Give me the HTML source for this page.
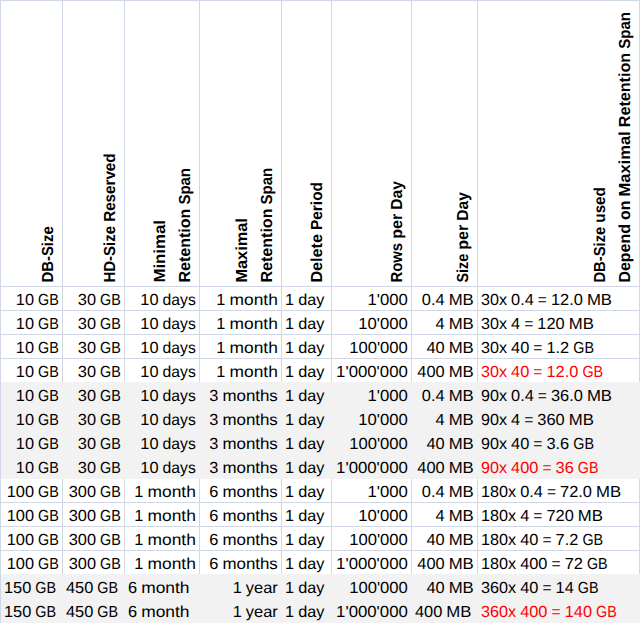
<!DOCTYPE html><html><head><meta charset="utf-8"><style>html,body{margin:0;padding:0;background:#fff;overflow:hidden}svg{display:block}text{text-rendering:geometricPrecision;font-family:"Liberation Sans",sans-serif;white-space:pre}</style></head><body>
<svg width="640" height="623" viewBox="0 0 640 623" shape-rendering="crispEdges">
<rect x="0" y="0" width="640" height="623" fill="#fff"/>
<rect x="0" y="0" width="1" height="623" fill="#D0D7E5"/>
<rect x="62" y="0" width="1" height="623" fill="#D0D7E5"/>
<rect x="124" y="0" width="1" height="623" fill="#D0D7E5"/>
<rect x="199" y="0" width="1" height="623" fill="#D0D7E5"/>
<rect x="281" y="0" width="1" height="623" fill="#D0D7E5"/>
<rect x="331" y="0" width="1" height="623" fill="#D0D7E5"/>
<rect x="411" y="0" width="1" height="623" fill="#D0D7E5"/>
<rect x="477" y="0" width="1" height="623" fill="#D0D7E5"/>
<rect x="639" y="0" width="1" height="623" fill="#D0D7E5"/>
<rect x="0" y="0" width="640" height="1" fill="#D0D7E5"/>
<rect x="0" y="286" width="640" height="1" fill="#D0D7E5"/>
<rect x="0" y="310" width="640" height="1" fill="#D0D7E5"/>
<rect x="0" y="334" width="640" height="1" fill="#D0D7E5"/>
<rect x="0" y="358" width="640" height="1" fill="#D0D7E5"/>
<rect x="0" y="382" width="640" height="1" fill="#D0D7E5"/>
<rect x="0" y="406" width="640" height="1" fill="#D0D7E5"/>
<rect x="0" y="430" width="640" height="1" fill="#D0D7E5"/>
<rect x="0" y="454" width="640" height="1" fill="#D0D7E5"/>
<rect x="0" y="478" width="640" height="1" fill="#D0D7E5"/>
<rect x="0" y="502" width="640" height="1" fill="#D0D7E5"/>
<rect x="0" y="526" width="640" height="1" fill="#D0D7E5"/>
<rect x="0" y="550" width="640" height="1" fill="#D0D7E5"/>
<rect x="0" y="574" width="640" height="1" fill="#D0D7E5"/>
<rect x="0" y="598" width="640" height="1" fill="#D0D7E5"/>
<rect x="0" y="622" width="640" height="1" fill="#D0D7E5"/>
<rect x="1" y="382" width="639" height="97" fill="#F2F2F2"/>
<rect x="1" y="574" width="639" height="49" fill="#F2F2F2"/>
<g font-size="16" shape-rendering="auto">
<text x="15.79" y="305" textLength="18.21" lengthAdjust="spacingAndGlyphs" fill="#000">10</text>
<text x="38.06" y="305" textLength="20.74" lengthAdjust="spacingAndGlyphs" fill="#000">GB</text>
<text x="77.79" y="305" textLength="18.21" lengthAdjust="spacingAndGlyphs" fill="#000">30</text>
<text x="100.06" y="305" textLength="20.74" lengthAdjust="spacingAndGlyphs" fill="#000">GB</text>
<text x="140.33" y="305" textLength="18.21" lengthAdjust="spacingAndGlyphs" fill="#000">10</text>
<text x="162.60" y="305" textLength="33.20" lengthAdjust="spacingAndGlyphs" fill="#000">days</text>
<text x="216.32" y="305" textLength="9.10" lengthAdjust="spacingAndGlyphs" fill="#000">1</text>
<text x="229.49" y="305" textLength="48.31" lengthAdjust="spacingAndGlyphs" fill="#000">month</text>
<text x="285.00" y="305" textLength="9.10" lengthAdjust="spacingAndGlyphs" fill="#000">1</text>
<text x="298.17" y="305" textLength="26.17" lengthAdjust="spacingAndGlyphs" fill="#000">day</text>
<text x="367.42" y="305" textLength="40.38" lengthAdjust="spacingAndGlyphs" fill="#000">1&#39;000</text>
<text x="421.87" y="305" textLength="22.74" lengthAdjust="spacingAndGlyphs" fill="#000">0.4</text>
<text x="448.67" y="305" textLength="25.13" lengthAdjust="spacingAndGlyphs" fill="#000">MB</text>
<text x="481.00" y="305" textLength="25.98" lengthAdjust="spacingAndGlyphs" fill="#000">30x</text>
<text x="511.04" y="305" textLength="22.74" lengthAdjust="spacingAndGlyphs" fill="#000">0.4</text>
<text x="537.85" y="305" textLength="9.10" lengthAdjust="spacingAndGlyphs" fill="#000">=</text>
<text x="551.01" y="305" textLength="31.85" lengthAdjust="spacingAndGlyphs" fill="#000">12.0</text>
<text x="586.92" y="305" textLength="25.13" lengthAdjust="spacingAndGlyphs" fill="#000">MB</text>
<text x="15.79" y="329" textLength="18.21" lengthAdjust="spacingAndGlyphs" fill="#000">10</text>
<text x="38.06" y="329" textLength="20.74" lengthAdjust="spacingAndGlyphs" fill="#000">GB</text>
<text x="77.79" y="329" textLength="18.21" lengthAdjust="spacingAndGlyphs" fill="#000">30</text>
<text x="100.06" y="329" textLength="20.74" lengthAdjust="spacingAndGlyphs" fill="#000">GB</text>
<text x="140.33" y="329" textLength="18.21" lengthAdjust="spacingAndGlyphs" fill="#000">10</text>
<text x="162.60" y="329" textLength="33.20" lengthAdjust="spacingAndGlyphs" fill="#000">days</text>
<text x="216.32" y="329" textLength="9.10" lengthAdjust="spacingAndGlyphs" fill="#000">1</text>
<text x="229.49" y="329" textLength="48.31" lengthAdjust="spacingAndGlyphs" fill="#000">month</text>
<text x="285.00" y="329" textLength="9.10" lengthAdjust="spacingAndGlyphs" fill="#000">1</text>
<text x="298.17" y="329" textLength="26.17" lengthAdjust="spacingAndGlyphs" fill="#000">day</text>
<text x="358.31" y="329" textLength="49.49" lengthAdjust="spacingAndGlyphs" fill="#000">10&#39;000</text>
<text x="435.50" y="329" textLength="9.10" lengthAdjust="spacingAndGlyphs" fill="#000">4</text>
<text x="448.67" y="329" textLength="25.13" lengthAdjust="spacingAndGlyphs" fill="#000">MB</text>
<text x="481.00" y="329" textLength="25.98" lengthAdjust="spacingAndGlyphs" fill="#000">30x</text>
<text x="511.04" y="329" textLength="9.10" lengthAdjust="spacingAndGlyphs" fill="#000">4</text>
<text x="524.21" y="329" textLength="9.10" lengthAdjust="spacingAndGlyphs" fill="#000">=</text>
<text x="537.37" y="329" textLength="27.31" lengthAdjust="spacingAndGlyphs" fill="#000">120</text>
<text x="568.75" y="329" textLength="25.13" lengthAdjust="spacingAndGlyphs" fill="#000">MB</text>
<text x="15.79" y="353" textLength="18.21" lengthAdjust="spacingAndGlyphs" fill="#000">10</text>
<text x="38.06" y="353" textLength="20.74" lengthAdjust="spacingAndGlyphs" fill="#000">GB</text>
<text x="77.79" y="353" textLength="18.21" lengthAdjust="spacingAndGlyphs" fill="#000">30</text>
<text x="100.06" y="353" textLength="20.74" lengthAdjust="spacingAndGlyphs" fill="#000">GB</text>
<text x="140.33" y="353" textLength="18.21" lengthAdjust="spacingAndGlyphs" fill="#000">10</text>
<text x="162.60" y="353" textLength="33.20" lengthAdjust="spacingAndGlyphs" fill="#000">days</text>
<text x="216.32" y="353" textLength="9.10" lengthAdjust="spacingAndGlyphs" fill="#000">1</text>
<text x="229.49" y="353" textLength="48.31" lengthAdjust="spacingAndGlyphs" fill="#000">month</text>
<text x="285.00" y="353" textLength="9.10" lengthAdjust="spacingAndGlyphs" fill="#000">1</text>
<text x="298.17" y="353" textLength="26.17" lengthAdjust="spacingAndGlyphs" fill="#000">day</text>
<text x="349.21" y="353" textLength="58.59" lengthAdjust="spacingAndGlyphs" fill="#000">100&#39;000</text>
<text x="426.40" y="353" textLength="18.21" lengthAdjust="spacingAndGlyphs" fill="#000">40</text>
<text x="448.67" y="353" textLength="25.13" lengthAdjust="spacingAndGlyphs" fill="#000">MB</text>
<text x="481.00" y="353" textLength="25.98" lengthAdjust="spacingAndGlyphs" fill="#000">30x</text>
<text x="511.04" y="353" textLength="18.21" lengthAdjust="spacingAndGlyphs" fill="#000">40</text>
<text x="533.31" y="353" textLength="9.10" lengthAdjust="spacingAndGlyphs" fill="#000">=</text>
<text x="546.48" y="353" textLength="22.74" lengthAdjust="spacingAndGlyphs" fill="#000">1.2</text>
<text x="573.28" y="353" textLength="20.74" lengthAdjust="spacingAndGlyphs" fill="#000">GB</text>
<text x="15.79" y="377" textLength="18.21" lengthAdjust="spacingAndGlyphs" fill="#000">10</text>
<text x="38.06" y="377" textLength="20.74" lengthAdjust="spacingAndGlyphs" fill="#000">GB</text>
<text x="77.79" y="377" textLength="18.21" lengthAdjust="spacingAndGlyphs" fill="#000">30</text>
<text x="100.06" y="377" textLength="20.74" lengthAdjust="spacingAndGlyphs" fill="#000">GB</text>
<text x="140.33" y="377" textLength="18.21" lengthAdjust="spacingAndGlyphs" fill="#000">10</text>
<text x="162.60" y="377" textLength="33.20" lengthAdjust="spacingAndGlyphs" fill="#000">days</text>
<text x="216.32" y="377" textLength="9.10" lengthAdjust="spacingAndGlyphs" fill="#000">1</text>
<text x="229.49" y="377" textLength="48.31" lengthAdjust="spacingAndGlyphs" fill="#000">month</text>
<text x="285.00" y="377" textLength="9.10" lengthAdjust="spacingAndGlyphs" fill="#000">1</text>
<text x="298.17" y="377" textLength="26.17" lengthAdjust="spacingAndGlyphs" fill="#000">day</text>
<text x="336.14" y="377" textLength="71.66" lengthAdjust="spacingAndGlyphs" fill="#000">1&#39;000&#39;000</text>
<text x="417.30" y="377" textLength="27.31" lengthAdjust="spacingAndGlyphs" fill="#000">400</text>
<text x="448.67" y="377" textLength="25.13" lengthAdjust="spacingAndGlyphs" fill="#000">MB</text>
<text x="481.00" y="377" textLength="25.98" lengthAdjust="spacingAndGlyphs" fill="#FF0000">30x</text>
<text x="511.04" y="377" textLength="18.21" lengthAdjust="spacingAndGlyphs" fill="#FF0000">40</text>
<text x="533.31" y="377" textLength="9.10" lengthAdjust="spacingAndGlyphs" fill="#FF0000">=</text>
<text x="546.48" y="377" textLength="31.85" lengthAdjust="spacingAndGlyphs" fill="#FF0000">12.0</text>
<text x="582.39" y="377" textLength="20.74" lengthAdjust="spacingAndGlyphs" fill="#FF0000">GB</text>
<text x="15.79" y="401" textLength="18.21" lengthAdjust="spacingAndGlyphs" fill="#000">10</text>
<text x="38.06" y="401" textLength="20.74" lengthAdjust="spacingAndGlyphs" fill="#000">GB</text>
<text x="77.79" y="401" textLength="18.21" lengthAdjust="spacingAndGlyphs" fill="#000">30</text>
<text x="100.06" y="401" textLength="20.74" lengthAdjust="spacingAndGlyphs" fill="#000">GB</text>
<text x="140.33" y="401" textLength="18.21" lengthAdjust="spacingAndGlyphs" fill="#000">10</text>
<text x="162.60" y="401" textLength="33.20" lengthAdjust="spacingAndGlyphs" fill="#000">days</text>
<text x="209.30" y="401" textLength="9.10" lengthAdjust="spacingAndGlyphs" fill="#000">3</text>
<text x="222.46" y="401" textLength="55.34" lengthAdjust="spacingAndGlyphs" fill="#000">months</text>
<text x="285.00" y="401" textLength="9.10" lengthAdjust="spacingAndGlyphs" fill="#000">1</text>
<text x="298.17" y="401" textLength="26.17" lengthAdjust="spacingAndGlyphs" fill="#000">day</text>
<text x="367.42" y="401" textLength="40.38" lengthAdjust="spacingAndGlyphs" fill="#000">1&#39;000</text>
<text x="421.87" y="401" textLength="22.74" lengthAdjust="spacingAndGlyphs" fill="#000">0.4</text>
<text x="448.67" y="401" textLength="25.13" lengthAdjust="spacingAndGlyphs" fill="#000">MB</text>
<text x="481.00" y="401" textLength="25.98" lengthAdjust="spacingAndGlyphs" fill="#000">90x</text>
<text x="511.04" y="401" textLength="22.74" lengthAdjust="spacingAndGlyphs" fill="#000">0.4</text>
<text x="537.85" y="401" textLength="9.10" lengthAdjust="spacingAndGlyphs" fill="#000">=</text>
<text x="551.01" y="401" textLength="31.85" lengthAdjust="spacingAndGlyphs" fill="#000">36.0</text>
<text x="586.92" y="401" textLength="25.13" lengthAdjust="spacingAndGlyphs" fill="#000">MB</text>
<text x="15.79" y="425" textLength="18.21" lengthAdjust="spacingAndGlyphs" fill="#000">10</text>
<text x="38.06" y="425" textLength="20.74" lengthAdjust="spacingAndGlyphs" fill="#000">GB</text>
<text x="77.79" y="425" textLength="18.21" lengthAdjust="spacingAndGlyphs" fill="#000">30</text>
<text x="100.06" y="425" textLength="20.74" lengthAdjust="spacingAndGlyphs" fill="#000">GB</text>
<text x="140.33" y="425" textLength="18.21" lengthAdjust="spacingAndGlyphs" fill="#000">10</text>
<text x="162.60" y="425" textLength="33.20" lengthAdjust="spacingAndGlyphs" fill="#000">days</text>
<text x="209.30" y="425" textLength="9.10" lengthAdjust="spacingAndGlyphs" fill="#000">3</text>
<text x="222.46" y="425" textLength="55.34" lengthAdjust="spacingAndGlyphs" fill="#000">months</text>
<text x="285.00" y="425" textLength="9.10" lengthAdjust="spacingAndGlyphs" fill="#000">1</text>
<text x="298.17" y="425" textLength="26.17" lengthAdjust="spacingAndGlyphs" fill="#000">day</text>
<text x="358.31" y="425" textLength="49.49" lengthAdjust="spacingAndGlyphs" fill="#000">10&#39;000</text>
<text x="435.50" y="425" textLength="9.10" lengthAdjust="spacingAndGlyphs" fill="#000">4</text>
<text x="448.67" y="425" textLength="25.13" lengthAdjust="spacingAndGlyphs" fill="#000">MB</text>
<text x="481.00" y="425" textLength="25.98" lengthAdjust="spacingAndGlyphs" fill="#000">90x</text>
<text x="511.04" y="425" textLength="9.10" lengthAdjust="spacingAndGlyphs" fill="#000">4</text>
<text x="524.21" y="425" textLength="9.10" lengthAdjust="spacingAndGlyphs" fill="#000">=</text>
<text x="537.37" y="425" textLength="27.31" lengthAdjust="spacingAndGlyphs" fill="#000">360</text>
<text x="568.75" y="425" textLength="25.13" lengthAdjust="spacingAndGlyphs" fill="#000">MB</text>
<text x="15.79" y="449" textLength="18.21" lengthAdjust="spacingAndGlyphs" fill="#000">10</text>
<text x="38.06" y="449" textLength="20.74" lengthAdjust="spacingAndGlyphs" fill="#000">GB</text>
<text x="77.79" y="449" textLength="18.21" lengthAdjust="spacingAndGlyphs" fill="#000">30</text>
<text x="100.06" y="449" textLength="20.74" lengthAdjust="spacingAndGlyphs" fill="#000">GB</text>
<text x="140.33" y="449" textLength="18.21" lengthAdjust="spacingAndGlyphs" fill="#000">10</text>
<text x="162.60" y="449" textLength="33.20" lengthAdjust="spacingAndGlyphs" fill="#000">days</text>
<text x="209.30" y="449" textLength="9.10" lengthAdjust="spacingAndGlyphs" fill="#000">3</text>
<text x="222.46" y="449" textLength="55.34" lengthAdjust="spacingAndGlyphs" fill="#000">months</text>
<text x="285.00" y="449" textLength="9.10" lengthAdjust="spacingAndGlyphs" fill="#000">1</text>
<text x="298.17" y="449" textLength="26.17" lengthAdjust="spacingAndGlyphs" fill="#000">day</text>
<text x="349.21" y="449" textLength="58.59" lengthAdjust="spacingAndGlyphs" fill="#000">100&#39;000</text>
<text x="426.40" y="449" textLength="18.21" lengthAdjust="spacingAndGlyphs" fill="#000">40</text>
<text x="448.67" y="449" textLength="25.13" lengthAdjust="spacingAndGlyphs" fill="#000">MB</text>
<text x="481.00" y="449" textLength="25.98" lengthAdjust="spacingAndGlyphs" fill="#000">90x</text>
<text x="511.04" y="449" textLength="18.21" lengthAdjust="spacingAndGlyphs" fill="#000">40</text>
<text x="533.31" y="449" textLength="9.10" lengthAdjust="spacingAndGlyphs" fill="#000">=</text>
<text x="546.48" y="449" textLength="22.74" lengthAdjust="spacingAndGlyphs" fill="#000">3.6</text>
<text x="573.28" y="449" textLength="20.74" lengthAdjust="spacingAndGlyphs" fill="#000">GB</text>
<text x="15.79" y="473" textLength="18.21" lengthAdjust="spacingAndGlyphs" fill="#000">10</text>
<text x="38.06" y="473" textLength="20.74" lengthAdjust="spacingAndGlyphs" fill="#000">GB</text>
<text x="77.79" y="473" textLength="18.21" lengthAdjust="spacingAndGlyphs" fill="#000">30</text>
<text x="100.06" y="473" textLength="20.74" lengthAdjust="spacingAndGlyphs" fill="#000">GB</text>
<text x="140.33" y="473" textLength="18.21" lengthAdjust="spacingAndGlyphs" fill="#000">10</text>
<text x="162.60" y="473" textLength="33.20" lengthAdjust="spacingAndGlyphs" fill="#000">days</text>
<text x="209.30" y="473" textLength="9.10" lengthAdjust="spacingAndGlyphs" fill="#000">3</text>
<text x="222.46" y="473" textLength="55.34" lengthAdjust="spacingAndGlyphs" fill="#000">months</text>
<text x="285.00" y="473" textLength="9.10" lengthAdjust="spacingAndGlyphs" fill="#000">1</text>
<text x="298.17" y="473" textLength="26.17" lengthAdjust="spacingAndGlyphs" fill="#000">day</text>
<text x="336.14" y="473" textLength="71.66" lengthAdjust="spacingAndGlyphs" fill="#000">1&#39;000&#39;000</text>
<text x="417.30" y="473" textLength="27.31" lengthAdjust="spacingAndGlyphs" fill="#000">400</text>
<text x="448.67" y="473" textLength="25.13" lengthAdjust="spacingAndGlyphs" fill="#000">MB</text>
<text x="481.00" y="473" textLength="25.98" lengthAdjust="spacingAndGlyphs" fill="#FF0000">90x</text>
<text x="511.04" y="473" textLength="27.31" lengthAdjust="spacingAndGlyphs" fill="#FF0000">400</text>
<text x="542.42" y="473" textLength="9.10" lengthAdjust="spacingAndGlyphs" fill="#FF0000">=</text>
<text x="555.58" y="473" textLength="18.21" lengthAdjust="spacingAndGlyphs" fill="#FF0000">36</text>
<text x="577.85" y="473" textLength="20.74" lengthAdjust="spacingAndGlyphs" fill="#FF0000">GB</text>
<text x="6.69" y="497" textLength="27.31" lengthAdjust="spacingAndGlyphs" fill="#000">100</text>
<text x="38.06" y="497" textLength="20.74" lengthAdjust="spacingAndGlyphs" fill="#000">GB</text>
<text x="68.69" y="497" textLength="27.31" lengthAdjust="spacingAndGlyphs" fill="#000">300</text>
<text x="100.06" y="497" textLength="20.74" lengthAdjust="spacingAndGlyphs" fill="#000">GB</text>
<text x="134.32" y="497" textLength="9.10" lengthAdjust="spacingAndGlyphs" fill="#000">1</text>
<text x="147.49" y="497" textLength="48.31" lengthAdjust="spacingAndGlyphs" fill="#000">month</text>
<text x="209.30" y="497" textLength="9.10" lengthAdjust="spacingAndGlyphs" fill="#000">6</text>
<text x="222.46" y="497" textLength="55.34" lengthAdjust="spacingAndGlyphs" fill="#000">months</text>
<text x="285.00" y="497" textLength="9.10" lengthAdjust="spacingAndGlyphs" fill="#000">1</text>
<text x="298.17" y="497" textLength="26.17" lengthAdjust="spacingAndGlyphs" fill="#000">day</text>
<text x="367.42" y="497" textLength="40.38" lengthAdjust="spacingAndGlyphs" fill="#000">1&#39;000</text>
<text x="421.87" y="497" textLength="22.74" lengthAdjust="spacingAndGlyphs" fill="#000">0.4</text>
<text x="448.67" y="497" textLength="25.13" lengthAdjust="spacingAndGlyphs" fill="#000">MB</text>
<text x="481.00" y="497" textLength="35.08" lengthAdjust="spacingAndGlyphs" fill="#000">180x</text>
<text x="520.15" y="497" textLength="22.74" lengthAdjust="spacingAndGlyphs" fill="#000">0.4</text>
<text x="546.95" y="497" textLength="9.10" lengthAdjust="spacingAndGlyphs" fill="#000">=</text>
<text x="560.12" y="497" textLength="31.85" lengthAdjust="spacingAndGlyphs" fill="#000">72.0</text>
<text x="596.03" y="497" textLength="25.13" lengthAdjust="spacingAndGlyphs" fill="#000">MB</text>
<text x="6.69" y="521" textLength="27.31" lengthAdjust="spacingAndGlyphs" fill="#000">100</text>
<text x="38.06" y="521" textLength="20.74" lengthAdjust="spacingAndGlyphs" fill="#000">GB</text>
<text x="68.69" y="521" textLength="27.31" lengthAdjust="spacingAndGlyphs" fill="#000">300</text>
<text x="100.06" y="521" textLength="20.74" lengthAdjust="spacingAndGlyphs" fill="#000">GB</text>
<text x="134.32" y="521" textLength="9.10" lengthAdjust="spacingAndGlyphs" fill="#000">1</text>
<text x="147.49" y="521" textLength="48.31" lengthAdjust="spacingAndGlyphs" fill="#000">month</text>
<text x="209.30" y="521" textLength="9.10" lengthAdjust="spacingAndGlyphs" fill="#000">6</text>
<text x="222.46" y="521" textLength="55.34" lengthAdjust="spacingAndGlyphs" fill="#000">months</text>
<text x="285.00" y="521" textLength="9.10" lengthAdjust="spacingAndGlyphs" fill="#000">1</text>
<text x="298.17" y="521" textLength="26.17" lengthAdjust="spacingAndGlyphs" fill="#000">day</text>
<text x="358.31" y="521" textLength="49.49" lengthAdjust="spacingAndGlyphs" fill="#000">10&#39;000</text>
<text x="435.50" y="521" textLength="9.10" lengthAdjust="spacingAndGlyphs" fill="#000">4</text>
<text x="448.67" y="521" textLength="25.13" lengthAdjust="spacingAndGlyphs" fill="#000">MB</text>
<text x="481.00" y="521" textLength="35.08" lengthAdjust="spacingAndGlyphs" fill="#000">180x</text>
<text x="520.15" y="521" textLength="9.10" lengthAdjust="spacingAndGlyphs" fill="#000">4</text>
<text x="533.31" y="521" textLength="9.10" lengthAdjust="spacingAndGlyphs" fill="#000">=</text>
<text x="546.48" y="521" textLength="27.31" lengthAdjust="spacingAndGlyphs" fill="#000">720</text>
<text x="577.85" y="521" textLength="25.13" lengthAdjust="spacingAndGlyphs" fill="#000">MB</text>
<text x="6.69" y="545" textLength="27.31" lengthAdjust="spacingAndGlyphs" fill="#000">100</text>
<text x="38.06" y="545" textLength="20.74" lengthAdjust="spacingAndGlyphs" fill="#000">GB</text>
<text x="68.69" y="545" textLength="27.31" lengthAdjust="spacingAndGlyphs" fill="#000">300</text>
<text x="100.06" y="545" textLength="20.74" lengthAdjust="spacingAndGlyphs" fill="#000">GB</text>
<text x="134.32" y="545" textLength="9.10" lengthAdjust="spacingAndGlyphs" fill="#000">1</text>
<text x="147.49" y="545" textLength="48.31" lengthAdjust="spacingAndGlyphs" fill="#000">month</text>
<text x="209.30" y="545" textLength="9.10" lengthAdjust="spacingAndGlyphs" fill="#000">6</text>
<text x="222.46" y="545" textLength="55.34" lengthAdjust="spacingAndGlyphs" fill="#000">months</text>
<text x="285.00" y="545" textLength="9.10" lengthAdjust="spacingAndGlyphs" fill="#000">1</text>
<text x="298.17" y="545" textLength="26.17" lengthAdjust="spacingAndGlyphs" fill="#000">day</text>
<text x="349.21" y="545" textLength="58.59" lengthAdjust="spacingAndGlyphs" fill="#000">100&#39;000</text>
<text x="426.40" y="545" textLength="18.21" lengthAdjust="spacingAndGlyphs" fill="#000">40</text>
<text x="448.67" y="545" textLength="25.13" lengthAdjust="spacingAndGlyphs" fill="#000">MB</text>
<text x="481.00" y="545" textLength="35.08" lengthAdjust="spacingAndGlyphs" fill="#000">180x</text>
<text x="520.15" y="545" textLength="18.21" lengthAdjust="spacingAndGlyphs" fill="#000">40</text>
<text x="542.42" y="545" textLength="9.10" lengthAdjust="spacingAndGlyphs" fill="#000">=</text>
<text x="555.58" y="545" textLength="22.74" lengthAdjust="spacingAndGlyphs" fill="#000">7.2</text>
<text x="582.39" y="545" textLength="20.74" lengthAdjust="spacingAndGlyphs" fill="#000">GB</text>
<text x="6.69" y="569" textLength="27.31" lengthAdjust="spacingAndGlyphs" fill="#000">100</text>
<text x="38.06" y="569" textLength="20.74" lengthAdjust="spacingAndGlyphs" fill="#000">GB</text>
<text x="68.69" y="569" textLength="27.31" lengthAdjust="spacingAndGlyphs" fill="#000">300</text>
<text x="100.06" y="569" textLength="20.74" lengthAdjust="spacingAndGlyphs" fill="#000">GB</text>
<text x="134.32" y="569" textLength="9.10" lengthAdjust="spacingAndGlyphs" fill="#000">1</text>
<text x="147.49" y="569" textLength="48.31" lengthAdjust="spacingAndGlyphs" fill="#000">month</text>
<text x="209.30" y="569" textLength="9.10" lengthAdjust="spacingAndGlyphs" fill="#000">6</text>
<text x="222.46" y="569" textLength="55.34" lengthAdjust="spacingAndGlyphs" fill="#000">months</text>
<text x="285.00" y="569" textLength="9.10" lengthAdjust="spacingAndGlyphs" fill="#000">1</text>
<text x="298.17" y="569" textLength="26.17" lengthAdjust="spacingAndGlyphs" fill="#000">day</text>
<text x="336.14" y="569" textLength="71.66" lengthAdjust="spacingAndGlyphs" fill="#000">1&#39;000&#39;000</text>
<text x="417.30" y="569" textLength="27.31" lengthAdjust="spacingAndGlyphs" fill="#000">400</text>
<text x="448.67" y="569" textLength="25.13" lengthAdjust="spacingAndGlyphs" fill="#000">MB</text>
<text x="481.00" y="569" textLength="35.08" lengthAdjust="spacingAndGlyphs" fill="#000">180x</text>
<text x="520.15" y="569" textLength="27.31" lengthAdjust="spacingAndGlyphs" fill="#000">400</text>
<text x="551.52" y="569" textLength="9.10" lengthAdjust="spacingAndGlyphs" fill="#000">=</text>
<text x="564.69" y="569" textLength="18.21" lengthAdjust="spacingAndGlyphs" fill="#000">72</text>
<text x="586.96" y="569" textLength="20.74" lengthAdjust="spacingAndGlyphs" fill="#000">GB</text>
<text x="4.00" y="593" textLength="27.31" lengthAdjust="spacingAndGlyphs" fill="#000">150</text>
<text x="35.37" y="593" textLength="20.74" lengthAdjust="spacingAndGlyphs" fill="#000">GB</text>
<text x="66.00" y="593" textLength="27.31" lengthAdjust="spacingAndGlyphs" fill="#000">450</text>
<text x="97.37" y="593" textLength="20.74" lengthAdjust="spacingAndGlyphs" fill="#000">GB</text>
<text x="128.00" y="593" textLength="9.10" lengthAdjust="spacingAndGlyphs" fill="#000">6</text>
<text x="141.17" y="593" textLength="48.31" lengthAdjust="spacingAndGlyphs" fill="#000">month</text>
<text x="232.70" y="593" textLength="9.10" lengthAdjust="spacingAndGlyphs" fill="#000">1</text>
<text x="245.86" y="593" textLength="31.94" lengthAdjust="spacingAndGlyphs" fill="#000">year</text>
<text x="285.00" y="593" textLength="9.10" lengthAdjust="spacingAndGlyphs" fill="#000">1</text>
<text x="298.17" y="593" textLength="26.17" lengthAdjust="spacingAndGlyphs" fill="#000">day</text>
<text x="349.21" y="593" textLength="58.59" lengthAdjust="spacingAndGlyphs" fill="#000">100&#39;000</text>
<text x="426.40" y="593" textLength="18.21" lengthAdjust="spacingAndGlyphs" fill="#000">40</text>
<text x="448.67" y="593" textLength="25.13" lengthAdjust="spacingAndGlyphs" fill="#000">MB</text>
<text x="481.00" y="593" textLength="35.08" lengthAdjust="spacingAndGlyphs" fill="#000">360x</text>
<text x="520.15" y="593" textLength="18.21" lengthAdjust="spacingAndGlyphs" fill="#000">40</text>
<text x="542.42" y="593" textLength="9.10" lengthAdjust="spacingAndGlyphs" fill="#000">=</text>
<text x="555.58" y="593" textLength="18.21" lengthAdjust="spacingAndGlyphs" fill="#000">14</text>
<text x="577.85" y="593" textLength="20.74" lengthAdjust="spacingAndGlyphs" fill="#000">GB</text>
<text x="4.00" y="617" textLength="27.31" lengthAdjust="spacingAndGlyphs" fill="#000">150</text>
<text x="35.37" y="617" textLength="20.74" lengthAdjust="spacingAndGlyphs" fill="#000">GB</text>
<text x="66.00" y="617" textLength="27.31" lengthAdjust="spacingAndGlyphs" fill="#000">450</text>
<text x="97.37" y="617" textLength="20.74" lengthAdjust="spacingAndGlyphs" fill="#000">GB</text>
<text x="128.00" y="617" textLength="9.10" lengthAdjust="spacingAndGlyphs" fill="#000">6</text>
<text x="141.17" y="617" textLength="48.31" lengthAdjust="spacingAndGlyphs" fill="#000">month</text>
<text x="232.70" y="617" textLength="9.10" lengthAdjust="spacingAndGlyphs" fill="#000">1</text>
<text x="245.86" y="617" textLength="31.94" lengthAdjust="spacingAndGlyphs" fill="#000">year</text>
<text x="285.00" y="617" textLength="9.10" lengthAdjust="spacingAndGlyphs" fill="#000">1</text>
<text x="298.17" y="617" textLength="26.17" lengthAdjust="spacingAndGlyphs" fill="#000">day</text>
<text x="336.14" y="617" textLength="71.66" lengthAdjust="spacingAndGlyphs" fill="#000">1&#39;000&#39;000</text>
<text x="415.00" y="617" textLength="27.31" lengthAdjust="spacingAndGlyphs" fill="#000">400</text>
<text x="446.37" y="617" textLength="25.13" lengthAdjust="spacingAndGlyphs" fill="#000">MB</text>
<text x="481.00" y="617" textLength="35.08" lengthAdjust="spacingAndGlyphs" fill="#FF0000">360x</text>
<text x="520.15" y="617" textLength="27.31" lengthAdjust="spacingAndGlyphs" fill="#FF0000">400</text>
<text x="551.52" y="617" textLength="9.10" lengthAdjust="spacingAndGlyphs" fill="#FF0000">=</text>
<text x="564.69" y="617" textLength="27.31" lengthAdjust="spacingAndGlyphs" fill="#FF0000">140</text>
<text x="596.06" y="617" textLength="20.74" lengthAdjust="spacingAndGlyphs" fill="#FF0000">GB</text>
</g>
<g font-size="16" font-weight="bold" shape-rendering="auto">
<text x="0.00" y="0" transform="translate(52.50,282.60) rotate(-90)" textLength="56.30" lengthAdjust="spacingAndGlyphs" fill="#000">DB-Size</text>
<text x="0.00" y="0" transform="translate(114.50,282.60) rotate(-90)" textLength="56.74" lengthAdjust="spacingAndGlyphs" fill="#000">HD-Size</text>
<text x="60.77" y="0" transform="translate(114.50,282.60) rotate(-90)" textLength="68.43" lengthAdjust="spacingAndGlyphs" fill="#000">Reserved</text>
<text x="0.00" y="0" transform="translate(165.20,282.60) rotate(-90)" textLength="62.50" lengthAdjust="spacingAndGlyphs" fill="#000">Minimal</text>
<text x="0.00" y="0" transform="translate(189.50,282.60) rotate(-90)" textLength="73.95" lengthAdjust="spacingAndGlyphs" fill="#000">Retention</text>
<text x="78.00" y="0" transform="translate(189.50,282.60) rotate(-90)" textLength="36.60" lengthAdjust="spacingAndGlyphs" fill="#000">Span</text>
<text x="0.00" y="0" transform="translate(247.20,282.60) rotate(-90)" textLength="64.40" lengthAdjust="spacingAndGlyphs" fill="#000">Maximal</text>
<text x="0.00" y="0" transform="translate(271.50,282.60) rotate(-90)" textLength="74.07" lengthAdjust="spacingAndGlyphs" fill="#000">Retention</text>
<text x="78.14" y="0" transform="translate(271.50,282.60) rotate(-90)" textLength="36.66" lengthAdjust="spacingAndGlyphs" fill="#000">Span</text>
<text x="0.00" y="0" transform="translate(321.50,282.60) rotate(-90)" textLength="48.57" lengthAdjust="spacingAndGlyphs" fill="#000">Delete</text>
<text x="52.59" y="0" transform="translate(321.50,282.60) rotate(-90)" textLength="48.01" lengthAdjust="spacingAndGlyphs" fill="#000">Period</text>
<text x="0.00" y="0" transform="translate(401.50,282.60) rotate(-90)" textLength="39.73" lengthAdjust="spacingAndGlyphs" fill="#000">Rows</text>
<text x="43.79" y="0" transform="translate(401.50,282.60) rotate(-90)" textLength="25.02" lengthAdjust="spacingAndGlyphs" fill="#000">per</text>
<text x="72.86" y="0" transform="translate(401.50,282.60) rotate(-90)" textLength="28.64" lengthAdjust="spacingAndGlyphs" fill="#000">Day</text>
<text x="0.00" y="0" transform="translate(467.50,282.60) rotate(-90)" textLength="28.88" lengthAdjust="spacingAndGlyphs" fill="#000">Size</text>
<text x="32.92" y="0" transform="translate(467.50,282.60) rotate(-90)" textLength="24.92" lengthAdjust="spacingAndGlyphs" fill="#000">per</text>
<text x="61.88" y="0" transform="translate(467.50,282.60) rotate(-90)" textLength="28.52" lengthAdjust="spacingAndGlyphs" fill="#000">Day</text>
<text x="0.00" y="0" transform="translate(605.20,282.60) rotate(-90)" textLength="55.93" lengthAdjust="spacingAndGlyphs" fill="#000">DB-Size</text>
<text x="59.98" y="0" transform="translate(605.20,282.60) rotate(-90)" textLength="35.37" lengthAdjust="spacingAndGlyphs" fill="#000">used</text>
<text x="0.00" y="0" transform="translate(629.50,282.60) rotate(-90)" textLength="58.54" lengthAdjust="spacingAndGlyphs" fill="#000">Depend</text>
<text x="62.62" y="0" transform="translate(629.50,282.60) rotate(-90)" textLength="19.34" lengthAdjust="spacingAndGlyphs" fill="#000">on</text>
<text x="86.04" y="0" transform="translate(629.50,282.60) rotate(-90)" textLength="65.27" lengthAdjust="spacingAndGlyphs" fill="#000">Maximal</text>
<text x="155.39" y="0" transform="translate(629.50,282.60) rotate(-90)" textLength="74.34" lengthAdjust="spacingAndGlyphs" fill="#000">Retention</text>
<text x="233.81" y="0" transform="translate(629.50,282.60) rotate(-90)" textLength="36.79" lengthAdjust="spacingAndGlyphs" fill="#000">Span</text>
</g>
</svg></body></html>
